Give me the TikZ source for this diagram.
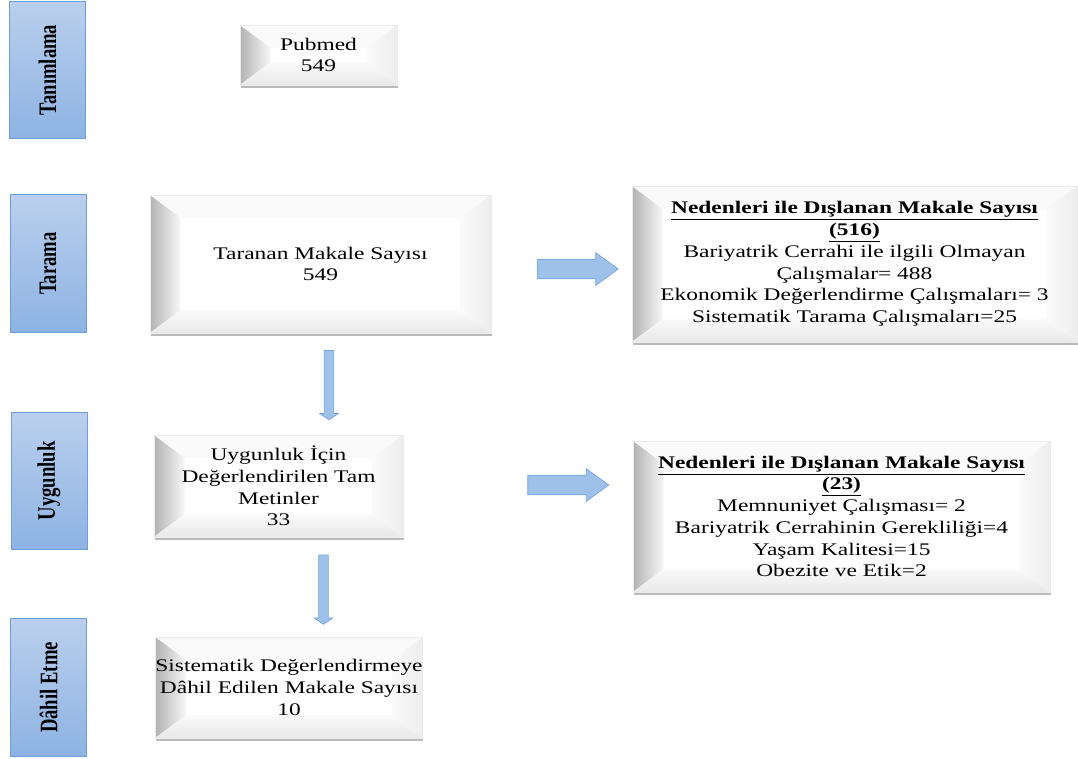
\documentclass[tikz,border=0pt]{standalone}
\usepackage{fontspec}
\setmainfont{Liberation Serif}[FakeStretch=1.32]
\newfontfamily\barfont{Liberation Serif}
\usepackage{graphicx}
\usetikzlibrary{calc,shapes.arrows,shadows}

\definecolor{barust}{RGB}{186,207,237}
\definecolor{baralt}{RGB}{141,179,227}
\definecolor{barcizgi}{RGB}{108,158,220}
\definecolor{okdolgu}{RGB}{157,193,232}
\definecolor{okcizgi}{RGB}{116,163,220}

\def\bvx{23pt}
\def\bvy{17pt}

\tikzset{
	kutu/.style={fill=white, draw=black!8, line width=0.3pt, align=center, inner sep=0pt,
		font=\fontsize{13.3pt}{16.3pt}\selectfont,
		drop shadow={shadow xshift=0.6pt, shadow yshift=-2.2pt, opacity=0.45, fill=black!60},
		path picture={
			\coordinate (bNW) at (path picture bounding box.north west);
			\coordinate (bNE) at (path picture bounding box.north east);
			\coordinate (bSW) at (path picture bounding box.south west);
			\coordinate (bSE) at (path picture bounding box.south east);
			\fill[left color=black!30, right color=black!3] (bNW) -- ($(bNW)+(\bvx,-\bvy)$) -- ($(bSW)+(\bvx,\bvy)$) -- (bSW) -- cycle;
			\fill[black!2] (bNW) -- (bNE) -- ($(bNE)+(-\bvx,-\bvy)$) -- ($(bNW)+(\bvx,-\bvy)$) -- cycle;
			\fill[left color=black!2, right color=black!7] (bNE) -- (bSE) -- ($(bSE)+(-\bvx,\bvy)$) -- ($(bNE)+(-\bvx,-\bvy)$) -- cycle;
			\fill[top color=black!2, bottom color=black!9] (bSW) -- (bSE) -- ($(bSE)+(-\bvx,\bvy)$) -- ($(bSW)+(\bvx,\bvy)$) -- cycle;
		}},
	serit/.style={draw=barcizgi, line width=0.6pt, top color=barust, bottom color=baralt, inner sep=0pt,
		minimum width=57pt, minimum height=103pt, font=\barfont\bfseries\fontsize{14pt}{16pt}\selectfont},
	sagok/.style={single arrow, draw=okcizgi, fill=okdolgu, line width=0.5pt, minimum height=60.75pt,
		inner xsep=0pt, inner ysep=7.1pt, single arrow head extend=4.9pt, single arrow tip angle=72},
	asagiok/.style={single arrow, draw=okcizgi, fill=okdolgu, line width=0.5pt, rotate=-90, minimum height=52pt,
		inner xsep=0pt, inner ysep=3.4pt, single arrow head extend=3.4pt, single arrow tip angle=112}
}

\begin{document}
\begin{tikzpicture}[x=0.75pt, y=-0.75pt]
	%%%%% START %%%%%
	\useasboundingbox (0,0) rectangle (1078,758);
	
	% asamalar
	\node[serit] (tanimlama) at (47.5,70) {\rotatebox{90}{\scalebox{1}[1.35]{Tanımlama}}};
	\node[serit] (tarama) at (48,263.5) {\rotatebox{90}{\scalebox{1}[1.35]{Tarama}}};
	\node[serit] (uygunluk) at (49,481) {\rotatebox{90}{\scalebox{1}[1.35]{Uygunluk}}};
	\node[serit] (dahiletme) at (48.5,687.5) {\rotatebox{90}{\scalebox{1}[1.35]{Dâhil Etme}}};
	
	% kutular
	\node[kutu, minimum width=117.75pt, minimum height=45pt] (pubmed) at (318.5,55) {Pubmed\\549};
	\node[kutu, minimum width=255.75pt, minimum height=103.5pt] (taranan) at (320.5,264) {Taranan Makale Sayısı\\549};
	\node[kutu, minimum width=333.75pt, minimum height=117pt] (dislanan1) at (854.5,264)
		{\underline{\textbf{Nedenleri ile Dışlanan Makale Sayısı}}\\\underline{\textbf{(516)}}\\Bariyatrik Cerrahi ile ilgili Olmayan\\Çalışmalar= 488\\Ekonomik Değerlendirme Çalışmaları= 3\\Sistematik Tarama Çalışmaları=25};
	\node[kutu, minimum width=186.75pt, minimum height=76.5pt] (tammetin) at (278.5,486) {Uygunluk İçin\\Değerlendirilen Tam\\Metinler\\33};
	\node[kutu, minimum width=312.75pt, minimum height=113.25pt] (dislanan2) at (841.5,516.5)
		{\underline{\textbf{Nedenleri ile Dışlanan Makale Sayısı}}\\\underline{\textbf{(23)}}\\Memnuniyet Çalışması= 2\\Bariyatrik Cerrahinin Gerekliliği=4\\Yaşam Kalitesi=15\\Obezite ve Etik=2};
	\node[kutu, minimum width=184.5pt, minimum height=75.75pt] (dahil) at (289,687.5) {Sistematik Değerlendirmeye\\Dâhil Edilen Makale Sayısı\\10};
	
	% oklar
	\node[sagok] (ok1) at (571,269) {};
	\node[sagok] (ok2) at (561.5,485) {};
	\node[asagiok] (ok3) at (329,383.5) {};
	\node[asagiok] (ok4) at (323.5,588) {};
	
	%%%%% END %%%%%
\end{tikzpicture}
\end{document}
